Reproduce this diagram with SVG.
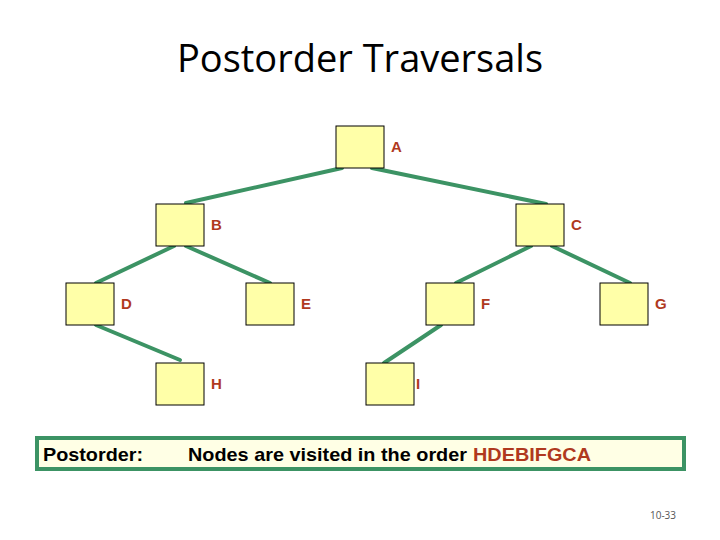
<svg xmlns="http://www.w3.org/2000/svg" width="720" height="540" viewBox="0 0 720 540">
<style>
.n{fill:#FFFFA8;stroke:#000;stroke-width:1}
.l{font-family:"Liberation Sans",Arial,sans-serif;font-weight:bold;font-size:15px;fill:#B0391E}
.e line{stroke:#3C9364;stroke-width:4;stroke-linecap:round}
</style>
<rect width="720" height="540" fill="#fff"/>
<text x="360" y="72" text-anchor="middle" font-family="Open Sans,'Liberation Sans',sans-serif" font-size="38" fill="#000">Postorder Traversals</text>
<g class="e" id="connectors">
<line x1="342" y1="168" x2="186" y2="203"/>
<line x1="372" y1="168" x2="546" y2="204"/>
<line x1="174" y1="246" x2="96" y2="283"/>
<line x1="186" y1="246" x2="270" y2="283"/>
<line x1="531" y1="246" x2="456" y2="283"/>
<line x1="552" y1="246" x2="630" y2="283"/>
<line x1="96" y1="325" x2="180" y2="360"/>
<line x1="441" y1="325" x2="384" y2="363"/>
</g>
<g id="A"><rect class="n" x="336" y="126" width="48" height="42"/><text class="l" x="391" y="152">A</text></g>
<g id="B"><rect class="n" x="156" y="204" width="48" height="42"/><text class="l" x="211" y="230">B</text></g>
<g id="C"><rect class="n" x="516" y="204" width="48" height="42"/><text class="l" x="571" y="230">C</text></g>
<g id="D"><rect class="n" x="66" y="283" width="48" height="42"/><text class="l" x="121" y="309">D</text></g>
<g id="E"><rect class="n" x="246" y="283" width="48" height="42"/><text class="l" x="301" y="309">E</text></g>
<g id="F"><rect class="n" x="426" y="283" width="48" height="42"/><text class="l" x="481" y="309">F</text></g>
<g id="G"><rect class="n" x="600" y="283" width="48" height="42"/><text class="l" x="655" y="309">G</text></g>
<g id="H"><rect class="n" x="156" y="363" width="48" height="42"/><text class="l" x="211" y="389">H</text></g>
<g id="I"><rect class="n" x="366" y="363" width="48" height="42"/><text class="l" x="416" y="389">I</text></g>
<g id="caption">
<rect x="37" y="438" width="647" height="31" fill="#FFFFE5" stroke="#3C9364" stroke-width="4"/>
<text x="43" y="461" font-family="'Liberation Sans Narrow','Liberation Sans',sans-serif" font-weight="bold" font-size="19" textLength="100" lengthAdjust="spacingAndGlyphs">Postorder:</text>
<text x="188" y="461" font-family="'Liberation Sans Narrow','Liberation Sans',sans-serif" font-weight="bold" font-size="19" textLength="279" lengthAdjust="spacingAndGlyphs">Nodes are visited in the order</text>
<text x="473" y="461" font-family="'Liberation Sans Narrow','Liberation Sans',sans-serif" font-weight="bold" font-size="19" fill="#B0391E" textLength="118" lengthAdjust="spacingAndGlyphs">HDEBIFGCA</text>
</g>
<text x="663" y="519" text-anchor="middle" font-family="'Open Sans','Liberation Sans',sans-serif" font-size="10" fill="#555">10-33</text>
</svg>
